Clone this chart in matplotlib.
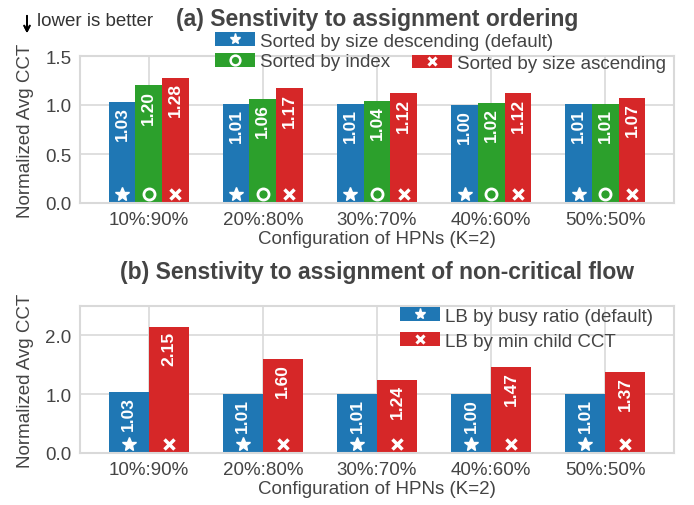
import numpy as np
import matplotlib.pyplot as plt
from matplotlib.patches import Patch
from matplotlib.lines import Line2D
from matplotlib.legend_handler import HandlerTuple
import matplotlib.transforms as mtransforms

plt.rcParams['font.family'] = ['Liberation Sans', 'DejaVu Sans']

configs = ['10%:90%', '20%:80%', '30%:70%', '40%:60%', '50%:50%']

# (a) assignment ordering
size_desc = [1.03, 1.01, 1.01, 1.00, 1.01]
by_index = [1.20, 1.06, 1.04, 1.02, 1.01]
size_asc = [1.28, 1.17, 1.12, 1.12, 1.07]

# (b) non-critical flow assignment
busy_ratio = [1.03, 1.01, 1.01, 1.00, 1.01]
min_child = [2.15, 1.60, 1.24, 1.47, 1.37]

blue, green, red = '#1f77b4', '#2ca02c', '#d62728'
txt = '#444444'
grid_c = '#d9d9d9'

plt.rcParams['text.color'] = txt
plt.rcParams['axes.labelcolor'] = txt
plt.rcParams['xtick.color'] = txt
plt.rcParams['ytick.color'] = txt

fig = plt.figure(figsize=(6.94, 5.06), dpi=100)
ax1 = fig.add_axes([80 / 694, 302 / 506, 594 / 694, 147 / 506])
ax2 = fig.add_axes([80 / 694, 52 / 506, 594 / 694, 147 / 506])

marker_style = {
    '*': dict(marker='*', markersize=10, color='white', markeredgecolor='white'),
    'o': dict(marker='o', markersize=8, markerfacecolor='none', markeredgecolor='white', markeredgewidth=2),
    'x': dict(marker='x', markersize=7, color='white', markeredgewidth=2.5),
}
legend_marker = {
    '*': dict(marker='*', markersize=8, color='white', markeredgecolor='white'),
    'o': dict(marker='o', markersize=7, markerfacecolor='none', markeredgecolor='white', markeredgewidth=1.8),
    'x': dict(marker='x', markersize=6, color='white', markeredgewidth=2.2),
}


def draw(ax, series, colors, markers, width, ylim, yticks):
    x = np.arange(len(configs))
    n = len(series)
    tr = mtransforms.blended_transform_factory(ax.transData, ax.transAxes)
    for i, (vals, c, m) in enumerate(zip(series, colors, markers)):
        pos = x + (i - (n - 1) / 2) * width
        ax.bar(pos, vals, width, color=c, zorder=2)
        ax.plot(pos, [0.06] * len(pos), linestyle='none', transform=tr, zorder=3, **marker_style[m])
        for p, v in zip(pos, vals):
            ax.annotate('%.2f' % v, (p, v), xytext=(0, -3), textcoords='offset points',
                        rotation=90, ha='center', va='top', color='white',
                        fontweight='bold', fontsize=12.5, zorder=4)
    ax.set_xlim(-0.6, len(configs) - 0.4)
    ax.set_ylim(*ylim)
    ax.set_yticks(yticks)
    ax.set_yticklabels(['%.1f' % t for t in yticks])
    ax.set_xticks(x)
    ax.set_xticklabels(configs)
    ax.grid(True, color=grid_c, linewidth=1.2, zorder=0)
    ax.set_axisbelow(True)
    for s in ax.spines.values():
        s.set_color(grid_c)
        s.set_linewidth(1.5)
    ax.tick_params(length=0, labelsize=13.5, pad=6)
    ax.set_xlabel('Configuration of HPNs (K=2)', fontsize=13.5, labelpad=1)
    ax.set_ylabel('Normalized Avg CCT', fontsize=13.5, labelpad=8)


def handle(c, m):
    return (Patch(facecolor=c), Line2D([], [], linestyle='none', **legend_marker[m]))


draw(ax1, [size_desc, by_index, size_asc], [blue, green, red], ['*', 'o', 'x'],
     0.7 / 3, (0, 1.5), [0.0, 0.5, 1.0, 1.5])
draw(ax2, [busy_ratio, min_child], [blue, red], ['*', 'x'],
     0.35, (0, 2.5), [0.0, 1.0, 2.0])

leg_kw = dict(handler_map={tuple: HandlerTuple(ndivide=1)}, frameon=False, fontsize=13.5,
              loc='upper left', handlelength=2.15, handleheight=0.75, handletextpad=0.25,
              borderpad=0, borderaxespad=0)
leg_a = ax1.legend([handle(blue, '*'), handle(green, 'o')],
                   ['Sorted by size descending (default)', 'Sorted by index'],
                   bbox_to_anchor=(0.227, 1.16), labelspacing=0.17, **leg_kw)
ax1.add_artist(leg_a)
ax1.legend([handle(red, 'x')], ['Sorted by size ascending'],
           bbox_to_anchor=(0.559, 1.01), **leg_kw)
ax2.legend([handle(blue, '*'), handle(red, 'x')],
           ['LB by busy ratio (default)', 'LB by min child CCT'],
           bbox_to_anchor=(0.539, 0.99), labelspacing=0.39, **leg_kw)

ax1.set_title('(a) Senstivity to assignment ordering', fontsize=16.5, fontweight='bold', pad=22.5)
ax2.set_title('(b) Senstivity to assignment of non-critical flow', fontsize=16.5, fontweight='bold', pad=20.5)
fig.text(37 / 694, 1 - 21 / 506, 'lower is better', fontsize=13.5, va='center', ha='left',
         color='#333333')
fig.add_artist(plt.annotate('', xy=(27 / 694, 1 - 37 / 506), xytext=(27 / 694, 1 - 14 / 506),
                            xycoords='figure fraction', textcoords='figure fraction',
                            arrowprops=dict(arrowstyle='->', color='black', lw=1.3)))

plt.savefig('out.png', dpi=100)
